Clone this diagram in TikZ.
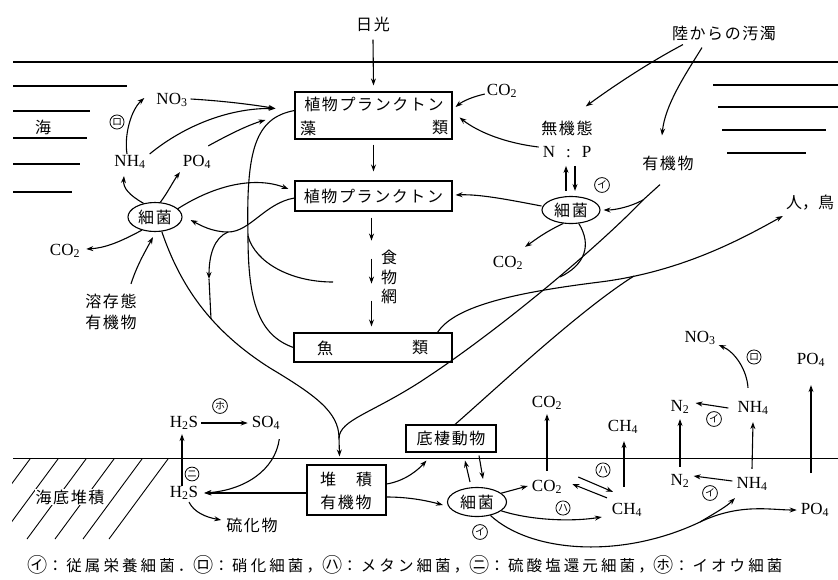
\documentclass[tikz,border=0pt]{standalone}
\usepackage{fontspec}
\setmainfont{Liberation Serif}
\newfontfamily\jp{Noto Sans CJK JP}[LetterSpace=10]
\newfontfamily\jpc{Noto Sans CJK JP}
\newfontfamily\jpleg{Noto Sans CJK JP}[LetterSpace=20]
\newcommand\lmk[1]{\raisebox{-1.5pt}{\scalebox{1.3}{#1}}}
\usetikzlibrary{arrows.meta,shapes.geometric,calc}
\tikzset{
 arr/.style={-{Stealth[length=7pt,width=5pt]}, line width=1.1pt},
 ln/.style={line width=1.1pt},
 box/.style={draw, line width=1.1pt, inner sep=0pt, font=\jp\fontsize{16}{18}\selectfont},
 bact/.style={ellipse, draw, line width=1.1pt, inner sep=0pt, font=\jp\fontsize{16}{18}\selectfont},
 jt/.style={inner sep=1pt, font=\jp\fontsize{16}{18}\selectfont},
 ct/.style={inner sep=1pt, font=\fontsize{17}{20}\selectfont},
 mk/.style={circle, draw, line width=0.8pt, inner sep=0.7pt, font=\jpc\fontsize{10}{10}\selectfont},
}
\begin{document}
\begin{tikzpicture}[x=1pt,y=-1pt]
\fill[white] (0,0) rectangle (838,579);
\useasboundingbox (0,0) rectangle (838,579);
% water surface and sea lines
\draw[ln] (13,62) -- (838,62);
\draw[ln] (13,86) -- (127,86);
\draw[ln] (13,111) -- (90,111);
\draw[ln] (13,138) -- (87,138);
\draw[ln] (13,164) -- (80,164);
\draw[ln] (13,192) -- (72,192);
\draw[ln] (713,85) -- (838,85);
\draw[ln] (718,107) -- (838,107);
\draw[ln] (722,130) -- (826,130);
\draw[ln] (727,153) -- (806,153);
% sea floor
\draw[ln] (13,458.5) -- (838,458.5);
\begin{scope}
\clip (12,459) rectangle (180,560);
\foreach \x in {30,58,86,114,142,168} \draw[line width=0.9pt] (\x,459) -- ++(-59,80);
\end{scope}
\node[jt, fill=white] (seabed) at (70,497) {海底堆積};
% boxes
\node[jt] (sun) at (373,24) {日光};
\node[box, minimum width=157pt, minimum height=47pt] (b1) at (373.5,115.5) {};
\node[jt] (b1t) at (374,104) {植物プランクトン};
\node[jt] (b1a) at (308,128) {藻};
\node[jt] (b1b) at (440,128) {類};
\node[box, minimum width=157pt, minimum height=30pt] (b2) at (373.5,196) {植物プランクトン};
\node[jt, align=center, font=\jp\fontsize{16}{19.5}\selectfont] (fw) at (389,277) {食\\物\\網};
\node[box, minimum width=158pt, minimum height=29pt] (b3) at (373,347.5) {};
\node[jt] (b3a) at (325,348) {魚};
\node[jt] (b3b) at (420,348) {類};
\node[box, minimum width=90pt, minimum height=27pt] (b4) at (451,438.5) {底棲動物};
\node[box, minimum width=79pt, minimum height=50pt] (b5) at (346.5,490) {};
\node[jt] (b5a) at (328,479) {堆};
\node[jt] (b5b) at (364,479) {積};
\node[jt] (b5c) at (346,502) {有機物};
% bacteria
\node[bact, minimum width=54pt, minimum height=29pt] (bacL) at (155,217) {細菌};
\node[bact, minimum width=58pt, minimum height=27pt] (bacR) at (571,210) {細菌};
\node[bact, minimum width=59pt, minimum height=29pt] (bacB) at (477,502) {細菌};
% texts
\node[jt] (sea) at (43,127) {海};
\node[ct] (no3L) at (172,100) {NO\textsubscript{3}};
\node[ct] (nh4L) at (130,162) {NH\textsubscript{4}};
\node[ct] (po4L) at (197,162) {PO\textsubscript{4}};
\node[ct] (co2L) at (65,251) {CO\textsubscript{2}};
\node[jt, align=center, font=\jp\fontsize{16}{21}\selectfont] (dom) at (111,312) {溶存態\\有機物};
\node[ct] (co2T) at (502,91) {CO\textsubscript{2}};
\node[jt] (inorg) at (567,128) {無機態};
\node[ct] (np) at (567,152) {N\hspace{11pt}:\hspace{11pt}P};
\node[jt] (land) at (724,33) {陸からの汚濁};
\node[jt] (orgR) at (668,163) {有機物};
\node[ct] (co2M) at (508,263) {CO\textsubscript{2}};
\node[inner sep=1pt, font=\jpc\fontsize{16}{18}\selectfont] (birds) at (810,203) {人，鳥};
\node[ct] (h2sU) at (184,423) {H\textsubscript{2}S};
\node[ct] (so4) at (266,423) {SO\textsubscript{4}};
\node[ct] (h2sL) at (184,493) {H\textsubscript{2}S};
\node[jt] (sulf) at (252,525) {硫化物};
\node[ct] (co2U) at (547,403) {CO\textsubscript{2}};
\node[ct] (co2B) at (547,487) {CO\textsubscript{2}};
\node[ct] (ch4U) at (623,427) {CH\textsubscript{4}};
\node[ct] (ch4B) at (627,510) {CH\textsubscript{4}};
\node[ct] (n2U) at (680,407) {N\textsubscript{2}};
\node[ct] (n2B) at (680,481) {N\textsubscript{2}};
\node[ct] (nh4U) at (753,408) {NH\textsubscript{4}};
\node[ct] (nh4B) at (752,484) {NH\textsubscript{4}};
\node[ct] (no3U) at (700,338) {NO\textsubscript{3}};
\node[ct] (po4U) at (811,360) {PO\textsubscript{4}};
\node[ct] (po4B) at (815,510) {PO\textsubscript{4}};
% markers
\node[mk] (m1) at (117,122) {ロ};
\node[mk] (m2) at (602,185) {イ};
\node[mk] (m3) at (220,406) {ホ};
\node[mk] (m4) at (192,474) {ニ};
\node[mk] (m5) at (603,470) {ハ};
\node[mk] (m6) at (563,508) {ハ};
\node[mk] (m7) at (480,532) {イ};
\node[mk] (m8) at (714,419) {イ};
\node[mk] (m9) at (710,493) {イ};
\node[mk] (m10) at (754,357) {ロ};
% legend
\node[inner sep=0pt, font=\jpleg\fontsize{15.5}{18}\selectfont] (leg) at (405,565) {\lmk{㋑}：従属栄養細菌．\lmk{㋺}：硝化細菌，\lmk{㋩}：メタン細菌，\lmk{㋥}：硫酸塩還元細菌，\lmk{㋭}：イオウ細菌};
% ---- connectors ----
\draw[arr] ([yshift=-7pt]sun.south) -- ([yshift=6pt]b1.north);
\draw[arr] ([yshift=-5pt]b1.south) -- ([yshift=9pt]b2.north);
\draw[arr] ([xshift=-2pt,yshift=-6pt]b2.south) -- ++(0,23);
\draw[arr] ([xshift=-2pt,yshift=-47pt]b2.south) -- ++(0,25);
\draw[arr] ([xshift=-2pt,yshift=-89pt]b2.south) -- ([xshift=-1.5pt,yshift=6pt]b3.north);
% left nutrients
\draw[arr] ([xshift=-3pt]nh4L.north) .. controls (124,135) and (131,110) .. ([xshift=-11pt,yshift=2pt]no3L.west);
\draw[arr] ([xshift=2pt,yshift=1pt]no3L.east) .. controls (225,101) and (255,105) .. ([xshift=-19pt,yshift=7pt]b1.west);
\draw[arr] ([xshift=3pt]nh4L.north east) .. controls (185,125) and (230,108) .. ([xshift=-19pt,yshift=7pt]b1.west);
\draw[arr] ([xshift=-4pt,yshift=8pt]po4L.north east) .. controls (228,135) and (248,125) .. ([xshift=-29pt,yshift=-4.5pt]b1.west);
\draw[arr] (bacL.130) .. controls (129,195) and (123,188) .. ([xshift=-6pt,yshift=-6pt]nh4L.south);
\draw[arr] (bacL.70) .. controls (168,192) and (174,180) .. ([xshift=-17pt,yshift=-2pt]po4L.south);
\draw[arr] (bacL.20) .. controls (215,185) and (255,176) .. ([xshift=-6pt,yshift=7pt]b2.west);
\draw[arr] (bacL.225) .. controls (120,242) and (105,248) .. ([xshift=5pt,yshift=2pt]co2L.east);
\draw[arr] ([xshift=20pt,yshift=9pt]dom.north) .. controls (137,265) and (146,250) .. ([xshift=-2pt,yshift=-5pt]bacL.south);
% detritus curves
\coordinate (j1) at (248,236);
\coordinate (fwend) at (333,282);
\draw[ln] ([yshift=5pt]b1.west) .. controls (255,118) and (246,150) .. (j1) .. controls (248,300) and (258,335) .. (b3.west);
\draw[ln] (j1) .. controls (255,262) and (290,282) .. (fwend);
\coordinate (j2) at (228,232);
\draw[arr] ([yshift=-2pt]b2.west) .. controls (265,203) and (250,232) .. (j2) .. controls (212,232) and (200,225) .. ([xshift=8pt,yshift=-3pt]bacL.east);
\coordinate (j2m) at (209,279);
\coordinate (j2b) at (211,319);
\draw[arr] (j2) .. controls (214,238) and (209,255) .. (j2m);
\draw[ln] (j2m) -- (j2b);
\coordinate (mg) at (339,438);
\draw[ln] (bacL.295) .. controls (180,285) and (210,330) .. (270,368) .. controls (315,395) and (339,412) .. (mg);
\coordinate (j3) at (643,200);
\draw[ln] ([xshift=-8pt,yshift=-13pt]orgR.south) -- (j3) .. controls (600,245) and (500,330) .. (420,382) .. controls (370,414) and (340,420) .. (mg);
\draw[arr] (j3) .. controls (630,207) and (615,210) .. ([xshift=3pt]bacR.east);
\draw[arr] (mg) -- ([xshift=-7pt,yshift=8pt]b5.north);
\coordinate (j5) at (560,277);
\draw[ln] (bacR.300) .. controls (592,245) and (585,265) .. (j5);
% to humans and birds
\coordinate (j6) at (634,276);
\draw[arr] ([xshift=-15pt]b3.north east) .. controls (455,305) and (520,292) .. (600,282) .. controls (680,272) and (740,240) .. ([xshift=-2pt,yshift=-13pt]birds.west);
\draw[ln] ([xshift=4pt]b4.north) .. controls (500,385) and (580,310) .. (j6);
% upper right
\draw[arr] ([xshift=-1pt,yshift=-3pt]co2T.west) .. controls (472,97) and (463,101) .. ([xshift=3pt,yshift=8.5pt]b1.east);
\draw[arr] ([xshift=-3pt,yshift=5pt]np.west) .. controls (505,143) and (478,132) .. ([xshift=7pt,yshift=-2pt]b1.east);
\draw[arr] ([xshift=-41pt,yshift=-3pt]land.south) .. controls (650,62) and (615,85) .. ([xshift=-8pt,yshift=13pt]inorg.north east);
\draw[arr] ([xshift=-22pt,yshift=-6pt]land.south) .. controls (685,75) and (665,105) .. ([xshift=-6pt,yshift=19pt]orgR.north);
\draw[arr] ([xshift=-5pt,yshift=5pt]bacR.north) -- ([xshift=-1pt,yshift=-7pt]np.south);
\draw[arr] ([xshift=8pt,yshift=-7pt]np.south) -- ([xshift=4pt,yshift=5pt]bacR.north);
\draw[arr] ([yshift=4pt]bacR.west) .. controls (510,200) and (480,194) .. ([xshift=3pt,yshift=1pt]b2.east);
\draw[arr] (bacR.240) .. controls (545,232) and (535,240) .. ([xshift=17pt,yshift=8pt]co2M.north);
% sulfur
\draw[arr] ([xshift=2pt]h2sU.east) -- ([xshift=-3pt]so4.west);
\draw[arr] ([xshift=-2pt,yshift=-8pt]so4.south east) .. controls (275,470) and (245,490) .. ([xshift=5pt]h2sL.east);
\draw[arr] ([yshift=-3pt]b5.west) -- ([xshift=5pt]h2sL.east);
\draw[arr] ([xshift=-2pt,yshift=-1pt]h2sL.north) -- ([xshift=-2pt,yshift=-3pt]h2sU.south);
\draw[arr] ([xshift=5pt,yshift=-1pt]h2sL.south) .. controls (194,512) and (205,517) .. ([xshift=-4pt,yshift=5pt]sulf.west);
% sediment
\draw[arr] ([yshift=6pt]b5.east) .. controls (405,481) and (418,470) .. ([xshift=21pt,yshift=-8pt]b4.south west);
\draw[arr] ([yshift=-7pt]b5.east) .. controls (410,497) and (428,501) .. ([xshift=-4pt,yshift=-3pt]bacB.west);
\draw[arr] ([xshift=-7pt,yshift=5pt]bacB.north) -- ([xshift=14pt,yshift=-8pt]b4.south);
\draw[arr] ([xshift=28pt,yshift=-3pt]b4.south) -- ([xshift=6pt,yshift=8pt]bacB.north);
\draw[arr] (bacB.20) -- ([xshift=-3pt,yshift=1pt]co2B.west);
\draw[arr] ([yshift=8pt]co2B.north) -- ([yshift=-3pt]co2U.south);
\draw[arr] ([xshift=-20pt,yshift=4pt]ch4B.north) -- ([xshift=9pt,yshift=3pt]co2B.east);
\draw[arr] ([xshift=15pt,yshift=10pt]co2B.east) -- ([xshift=-14pt,yshift=10pt]ch4B.north);
\draw[arr] ([xshift=-3pt,yshift=15pt]ch4B.north) -- ([xshift=1pt,yshift=-6pt]ch4U.south);
\draw[arr] (bacB.340) .. controls (530,520) and (570,522) .. ([xshift=-9pt,yshift=-7pt]ch4B.west);
\coordinate (j4) at (700,522);
\draw[arr] (bacB.315) .. controls (530,552) and (620,560) .. (j4) .. controls (740,503) and (770,510) .. ([xshift=-3pt]po4B.west);
\draw[arr] (j4) .. controls (715,513) and (726,507) .. ([xshift=-17pt,yshift=-6pt]nh4B.south);
% nitrogen
\draw[arr] ([xshift=-3pt,yshift=3pt]nh4B.west) -- ([xshift=3pt,yshift=5pt]n2B.east);
\draw[arr] ([yshift=6pt]n2B.north) -- ([yshift=-4pt]n2U.south);
\draw[arr] ([yshift=7pt]nh4B.north) -- ([yshift=-6pt]nh4U.south);
\draw[arr] ([xshift=-8pt]nh4U.west) -- ([xshift=5pt,yshift=4pt]n2U.east);
\draw[arr] ([xshift=-5pt,yshift=12pt]nh4U.north) .. controls (747,370) and (735,352) .. ([xshift=2pt,yshift=-7pt]no3U.east);
\coordinate (po4src) at (811,473);
\draw[arr] (po4src) -- ([yshift=-17pt]po4U.south);
\end{tikzpicture}
\end{document}
